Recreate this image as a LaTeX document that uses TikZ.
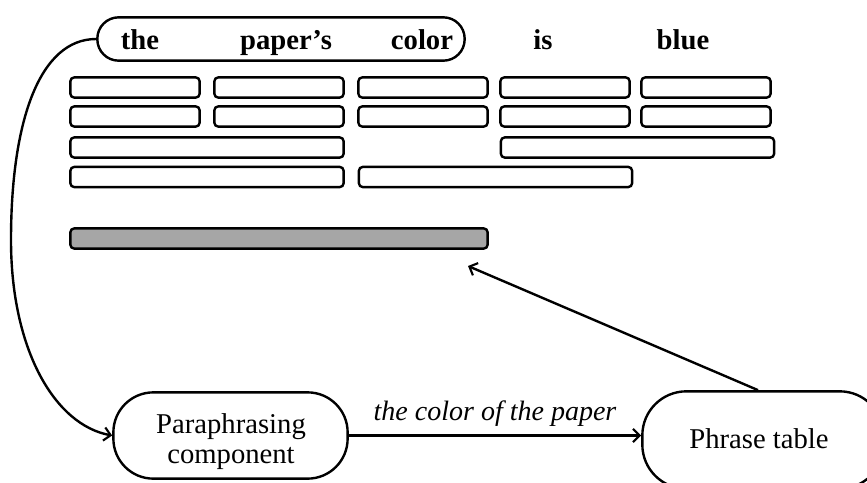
\documentclass[tikz,border=0pt]{standalone}
\usepackage{fontspec}
\setmainfont{Liberation Serif}
\usetikzlibrary{arrows.meta}
\definecolor{bargray}{HTML}{A6A6A6}
\tikzset{
  slot/.style={draw, rounded corners=3pt, line width=1.8pt, inner sep=0pt, minimum height=15.2pt},
  short/.style={slot, minimum width=97pt},
  long/.style={slot, minimum width=205pt},
  word/.style={anchor=base, inner sep=0pt, font=\fontsize{21.5}{24}\selectfont\bfseries},
  pill/.style={draw, line width=1.8pt, inner sep=0pt},
  lbl/.style={anchor=base, inner sep=0pt, font=\fontsize{21.5}{24}\selectfont},
  arr/.style={line width=1.8pt, -{Straight Barb[length=5pt,width=10pt,line width=1.6pt]}}
}
\begin{document}
\begin{tikzpicture}[x=0.75pt,y=-0.75pt]
\useasboundingbox (0,0) rectangle (867,482);
\clip (0,0) rectangle (867,482);
% top phrase box
\node[pill, rounded corners=16pt, minimum width=275.5pt, minimum height=32.5pt] (top) at (281,39) {};
\node[word] (w1) at (140,49) {the};
\node[word] (w2) at (286,49) {paper’s};
\node[word] (w3) at (422,49) {color};
\node[word] (w4) at (543,49) {is};
\node[word] (w5) at (683,49) {blue};
% rows
\node[short] (a1) at (135,87.5) {};
\node[short] (a2) at (279,87.5) {};
\node[short] (a3) at (423,87.5) {};
\node[short] (a4) at (565,87.5) {};
\node[short] (a5) at (706,87.5) {};
\node[short] (b1) at (135,116.5) {};
\node[short] (b2) at (279,116.5) {};
\node[short] (b3) at (423,116.5) {};
\node[short] (b4) at (565,116.5) {};
\node[short] (b5) at (706,116.5) {};
\node[long] (c1) at (207,147.5) {};
\node[long] (c2) at (637.5,147.5) {};
\node[long] (d1) at (207,177) {};
\node[long] (d2) at (495.5,177) {};
% gray bar
\node[slot, fill=bargray, minimum width=313pt] (bar) at (279,238.5) {};
% bottom components
\node[pill, rounded corners=30pt, minimum width=175.7pt, minimum height=64.7pt] (para) at (230.5,435.5) {};
\node[lbl] (pt1) at (231,433) {Paraphrasing};
\node[lbl] (pt2) at (231,463) {component};
\node[pill, rounded corners=33pt, minimum width=181pt, minimum height=73pt] (phr) at (763,440) {};
\node[lbl] (pht) at (759,448) {Phrase table};
% connectors
\coordinate (mid) at (11,240);
\coordinate (tgt) at (468,266);
\draw[arr] (top.west) .. controls (40,39) and (11,120) .. (mid)
  .. controls (11,350) and (55,425) .. (para.west);
\draw[arr] (para.east) -- (para.east -| phr.west)
  node[midway, above=6pt, inner sep=0pt, font=\fontsize{21}{24}\selectfont\itshape] {the color of the paper};
\draw[arr] (phr.north -| 758,0) -- (tgt);
\end{tikzpicture}
\end{document}
